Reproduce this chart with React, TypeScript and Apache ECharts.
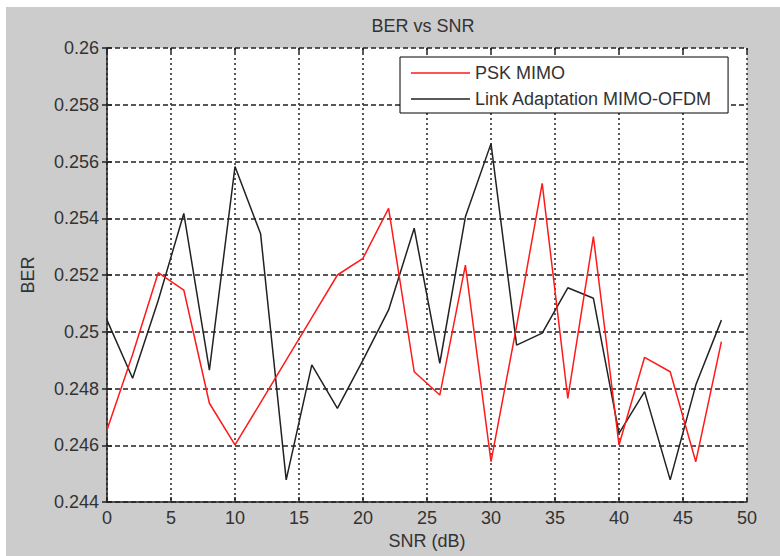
import React, { useEffect, useRef } from "react";
import * as echarts from "echarts";

const snr = [0, 2, 4, 6, 8, 10, 12, 14, 16, 18, 20, 22, 24, 26, 28, 30, 32, 34, 36, 38, 40, 42, 44, 46, 48];
const pskMimo = [0.24654, 0.2492, 0.25208, 0.25147, 0.24748, 0.24601, 0.2475, 0.249, 0.2505, 0.252, 0.25259, 0.25435, 0.24859, 0.24777, 0.25235, 0.24542, 0.2502, 0.25523, 0.24765, 0.25335, 0.24601, 0.2491, 0.24859, 0.24542, 0.24965];
const linkAdapt = [0.25041, 0.24836, 0.2511, 0.25417, 0.24865, 0.25582, 0.25345, 0.24478, 0.24883, 0.2473, 0.249, 0.25077, 0.25365, 0.24889, 0.25405, 0.25663, 0.24953, 0.24995, 0.25155, 0.25118, 0.24642, 0.24789, 0.24478, 0.24812, 0.25041];
const seriesNames = ["PSK MIMO", "Link Adaptation MIMO-OFDM"];
const titleText = "BER vs SNR";
const xName = "SNR (dB)";
const yName = "BER";

const FONT = "'Liberation Sans', Arial, sans-serif";
const TXT = "#333333";

export default function App() {
  const ref = useRef<HTMLDivElement>(null);
  useEffect(() => {
    document.body.style.margin = "0";
    const chart = echarts.init(ref.current!, null, { renderer: "svg" });
    const toPairs = (ys: number[]) => snr.map((x, i) => [x, ys[i]]);
    chart.setOption({
      animation: false,
      backgroundColor: "#ffffff",
      textStyle: { fontFamily: FONT, color: TXT },
      graphic: [
        {
          type: "rect",
          z: -10,
          silent: true,
          shape: { x: 6, y: 7, width: 774, height: 549 },
          style: { fill: "#cccccc" },
        },
      ],
      title: {
        text: titleText,
        left: 423,
        top: 17,
        textAlign: "center",
        padding: 0,
        textStyle: { fontFamily: FONT, fontSize: 18, fontWeight: "normal", color: TXT },
      },
      legend: {
        orient: "vertical",
        left: 400,
        top: 57,
        padding: [7, 16, 5, 11],
        icon: "rect",
        itemWidth: 59,
        itemHeight: 1.5,
        itemGap: 8,
        backgroundColor: "#ffffff",
        borderColor: "#000000",
        borderWidth: 1,
        borderRadius: 0,
        textStyle: { fontFamily: FONT, fontSize: 18, color: TXT, lineHeight: 18 },
        data: seriesNames,
      },
      grid: {
        left: 107,
        right: 33,
        top: 48,
        bottom: 54,
        show: true,
        backgroundColor: "#ffffff",
        borderWidth: 0,
      },
      xAxis: [
        {
          type: "value",
          min: 0,
          max: 50,
          interval: 5,
          name: xName,
          nameLocation: "middle",
          nameGap: 28,
          nameTextStyle: { fontFamily: FONT, fontSize: 18, color: TXT },
          axisLine: { show: true, lineStyle: { color: "#222", width: 1.5 } },
          axisTick: { show: true, inside: true, length: 5, lineStyle: { color: "#222", width: 1.5 } },
          axisLabel: { fontFamily: FONT, fontSize: 18, color: TXT, margin: 7 },
          splitLine: { show: true, lineStyle: { color: "#222", width: 1.5, type: [2, 3] } },
        },
        {
          type: "value",
          position: "top",
          min: 0,
          max: 50,
          interval: 5,
          axisLine: { show: false },
          axisTick: { show: true, inside: true, length: 5, lineStyle: { color: "#222", width: 1.5 } },
          axisLabel: { show: false },
          splitLine: { show: false },
        },
      ],
      yAxis: [
        {
          type: "value",
          min: 0.244,
          max: 0.26,
          interval: 0.002,
          name: yName,
          nameLocation: "middle",
          nameRotate: 90,
          nameGap: 70,
          nameTextStyle: { fontFamily: FONT, fontSize: 18, color: TXT },
          axisLine: { show: true, lineStyle: { color: "#222", width: 1.5 } },
          axisTick: { show: true, inside: true, length: 5, lineStyle: { color: "#222", width: 1.5 } },
          axisLabel: {
            fontFamily: FONT,
            fontSize: 18,
            color: TXT,
            margin: 8,
            formatter: (v: number) => String(parseFloat(v.toFixed(3))),
          },
          splitLine: { show: true, lineStyle: { color: "#222", width: 1.5, type: [5, 3] } },
        },
        {
          type: "value",
          position: "right",
          min: 0.244,
          max: 0.26,
          interval: 0.002,
          axisLine: { show: false },
          axisTick: { show: true, inside: true, length: 5, lineStyle: { color: "#222", width: 1.5 } },
          axisLabel: { show: false },
          splitLine: { show: false },
        },
      ],
      series: [
        {
          name: seriesNames[0],
          type: "line",
          symbol: "none",
          data: toPairs(pskMimo),
          lineStyle: { color: "#ff1a1a", width: 1.5 },
          itemStyle: { color: "#ff1a1a" },
          z: 3,
        },
        {
          name: seriesNames[1],
          type: "line",
          symbol: "none",
          data: toPairs(linkAdapt),
          lineStyle: { color: "#222222", width: 1.5 },
          itemStyle: { color: "#222222" },
          z: 2,
        },
      ],
    });
    return () => chart.dispose();
  }, []);
  return <div ref={ref} style={{ position: "absolute", left: 0, top: 0, width: 780, height: 556 }} />;
}
